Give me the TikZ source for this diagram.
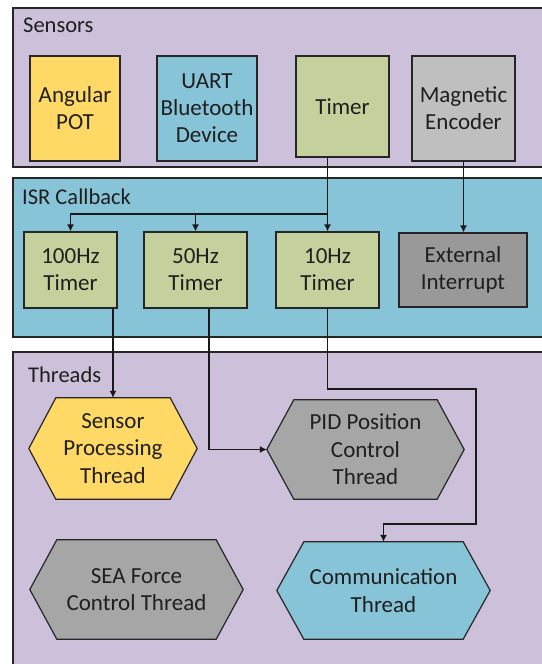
\documentclass[tikz,border=0pt]{standalone}
\usepackage{fontspec}
\setmainfont{Carlito}
\usetikzlibrary{arrows.meta,calc}
\definecolor{panelpurple}{HTML}{CCC0DA}
\definecolor{isrblue}{HTML}{88C4D8}
\definecolor{potyellow}{HTML}{FFD966}
\definecolor{timergreen}{HTML}{C4D19D}
\definecolor{encgray}{HTML}{BFBFBF}
\definecolor{intgray}{HTML}{999999}
\definecolor{thrgray}{HTML}{A6A6A6}
\definecolor{txt}{HTML}{1F1F1F}
\pgfdeclarelayer{bg}
\pgfsetlayers{bg,main}
\tikzset{
	box/.style={draw=black!85, line width=1.2pt, align=center, inner sep=1pt, text=txt, font=\fontsize{23}{27}\selectfont},
	hexa/.style={align=center, inner sep=1pt, text=txt, font=\fontsize{23}{27.5}\selectfont},
	panel/.style={draw=black!85, line width=1.2pt},
	lbl/.style={anchor=west, inner sep=0pt, text=txt, font=\fontsize{22.5}{27}\selectfont},
	arr/.style={draw=black!90, line width=1.2pt, -{Latex[length=7pt,width=7pt]}}
}

\begin{document}
\begin{tikzpicture}[x=1pt,y=-1pt]
			\useasboundingbox (0,0) rectangle (541,664);
			\node[lbl] (sens) at (23,25) {Sensors};
			\node[lbl] (isr) at (22,197) {ISR Callback};
			\node[lbl] (thr) at (28,375) {Threads};
			
			\node (angpot) at (75,108.5) [box,fill=potyellow,minimum width=90pt,minimum height=105pt] {Angular\\POT};
			\node (uart) at (207,108.5) [box,fill=isrblue,minimum width=100pt,minimum height=105pt] {UART\\Bluetooth\\Device};
			\node (timer) at (342.5,106.5) [box,fill=timergreen,minimum width=93pt,minimum height=101pt] {Timer};
			\node (magenc) at (463.5,108.5) [box,fill=encgray,minimum width=103pt,minimum height=105pt] {Magnetic\\Encoder};
			
			\node (hundred) at (70.5,270) [box,fill=timergreen,minimum width=93pt,minimum height=76pt] {100Hz\\Timer};
			\node (fifty) at (195.5,270) [box,fill=timergreen,minimum width=103pt,minimum height=76pt] {50Hz\\Timer};
			\node (tenhz) at (327.5,270) [box,fill=timergreen,minimum width=103pt,minimum height=76pt] {10Hz\\Timer};
			\node (extint) at (463,270) [box,fill=intgray,minimum width=128pt,minimum height=74pt] {External\\Interrupt};
			
			\node (spt) at (113,448.5) [hexa,minimum width=168pt,minimum height=101pt] {Sensor\\Processing\\Thread};
			\node (pid) at (365.5,449.5) [hexa,minimum width=197pt,minimum height=99pt] {PID Position\\Control\\Thread};
			\node (sea) at (136.5,589.5) [hexa,minimum width=213pt,minimum height=99pt] {SEA Force\\Control Thread};
			\node (com) at (383.5,590.5) [hexa,minimum width=213pt,minimum height=97pt] {Communication\\Thread};
			
			\begin{pgfonlayer}{bg}
				\draw[panel,fill=panelpurple] (13,8) rectangle (560,167);
				\draw[panel,fill=isrblue] (13,178) rectangle (560,337);
				\draw[panel,fill=panelpurple] (13,352) rectangle (560,690);
				\foreach \n/\c in {spt/potyellow,pid/thrgray,sea/thrgray,com/isrblue}
					\draw[panel,fill=\c] (\n.west) -- ([xshift=27pt]\n.north west) -- ([xshift=-27pt]\n.north east) -- (\n.east) -- ([xshift=-27pt]\n.south east) -- ([xshift=27pt]\n.south west) -- cycle;
			\end{pgfonlayer}
			
			\coordinate (bus) at (327.5,214);
			\draw[arr] (timer.south -| tenhz.north) -- (tenhz.north);
			\draw[arr] (bus) -| (hundred.north);
			\draw[arr] (bus -| fifty.north) -- (fifty.north);
			\draw[arr] (magenc.south) -- (magenc.south |- extint.north);
			
			\draw[arr] (hundred.south -| spt.north) -- (spt.north);
			\draw[arr] ([xshift=13.5pt]fifty.south) |- (pid.west);
			\draw[arr] (tenhz.south) |- (476,389) -- (476,524) -| (com.north);
		\end{tikzpicture}
\end{document}
